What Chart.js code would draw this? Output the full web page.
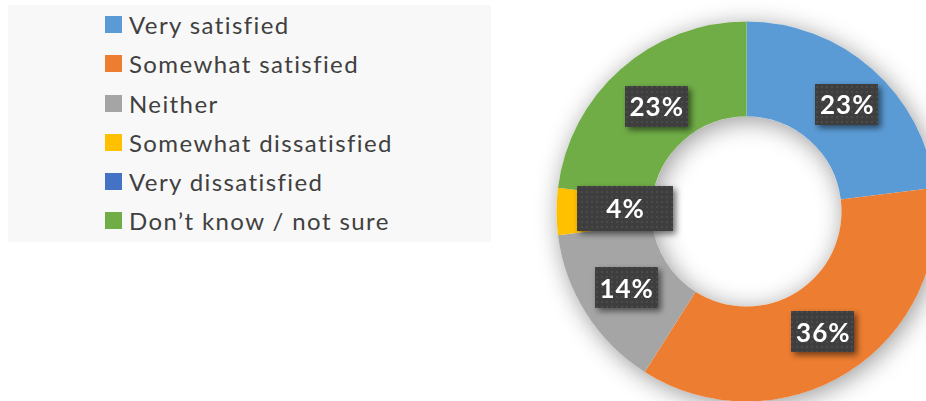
<!DOCTYPE html>
<html>
<head>
<meta charset="utf-8">
<script src="https://cdn.jsdelivr.net/npm/chart.js@4/dist/chart.umd.min.js"></script>
<style>
  html, body { margin: 0; padding: 0; width: 926px; height: 401px; overflow: hidden; background: #ffffff; }
  #wrap { position: absolute; left: 0; top: 0; width: 940px; height: 405px; }
  #legend { position: absolute; left: 8px; top: 5px; width: 483px; height: 237px; background: #f8f8f8;
            font-family: Lato, "Open Sans", sans-serif; font-size: 24px; letter-spacing: 1.4px; color: #404040; }
  #legend ul { list-style: none; margin: 0; padding: 0; padding-top: 0px; }
  #legend li { position: relative; height: 39.3px; line-height: 39.3px; padding-left: 121px; white-space: nowrap; }
  #legend li span.box { position: absolute; left: 97px; top: 11px; width: 17px; height: 17px; }
</style>
</head>
<body>
<div id="wrap"><canvas id="c"></canvas></div>
<div id="legend"></div>
<script>
const categories = ["Very satisfied", "Somewhat satisfied", "Neither", "Somewhat dissatisfied", "Very dissatisfied", "Don\u2019t know / not sure"];
const values = [23, 36, 14, 4, 0, 23];
const colors = ["#5b9bd5", "#ed7d31", "#a5a5a5", "#ffc000", "#4472c4", "#70ad47"];

function makePattern(ctx) {
  const p = document.createElement('canvas');
  p.width = 5; p.height = 5;
  const g = p.getContext('2d');
  g.fillStyle = '#3e3e3e'; g.fillRect(0, 0, 5, 5);
  g.fillStyle = '#4b4b4b'; g.fillRect(1, 1, 2, 2);
  return ctx.createPattern(p, 'repeat');
}

const ringShadow = {
  id: 'ringShadow',
  beforeDatasetsDraw(chart) {
    const arc = chart.getDatasetMeta(0).data[0];
    if (!arc) return;
    const { x, y, outerRadius, innerRadius } = arc.getProps(['x', 'y', 'outerRadius', 'innerRadius'], true);
    const ctx = chart.ctx;
    ctx.save();
    ctx.shadowColor = 'rgba(0,0,0,0.4)';
    ctx.shadowBlur = 24;
    ctx.shadowOffsetX = 3;
    ctx.shadowOffsetY = 4;
    ctx.beginPath();
    ctx.arc(x, y, outerRadius, 0, Math.PI * 2);
    ctx.arc(x, y, innerRadius, 0, Math.PI * 2, true);
    ctx.fillStyle = '#ffffff';
    ctx.fill('evenodd');
    ctx.restore();
  }
};

const boxLabels = {
  id: 'boxLabels',
  afterDatasetsDraw(chart, args, opts) {
    const ctx = chart.ctx;
    const meta = chart.getDatasetMeta(0);
    const data = chart.data.datasets[0].data;
    const total = data.reduce((a, b) => a + b, 0);
    const pattern = makePattern(ctx);
    meta.data.forEach((arc, i) => {
      const v = data[i];
      if (!v) return;
      const pos = arc.tooltipPosition(true);
      const o = (opts.overrides && opts.overrides[i]) || {};
      const cx = pos.x + (o.dx || 0);
      const cy = pos.y + (o.dy || 0);
      const w = o.w || opts.boxWidth;
      const h = o.h || opts.boxHeight;
      const text = Math.round(v / total * 100) + '%';
      ctx.save();
      ctx.shadowColor = 'rgba(0,0,0,0.55)';
      ctx.shadowBlur = 6;
      ctx.shadowOffsetX = 3;
      ctx.shadowOffsetY = 3;
      ctx.fillStyle = pattern;
      ctx.fillRect(Math.round(cx - w / 2), Math.round(cy - h / 2), w, h);
      ctx.restore();
      ctx.save();
      ctx.fillStyle = '#ffffff';
      ctx.font = 'bold ' + opts.fontSize + 'px Lato, "Open Sans", sans-serif';
      ctx.letterSpacing = '1px';
      ctx.textAlign = 'center';
      ctx.textBaseline = 'middle';
      ctx.fillText(text, cx + 0.5, cy + 1.5);
      ctx.restore();
    });
  }
};

const chart = new Chart(document.getElementById('c'), {
  type: 'doughnut',
  data: {
    labels: categories,
    datasets: [{ data: values, backgroundColor: colors, borderWidth: 0, hoverOffset: 0 }]
  },
  options: {
    responsive: true,
    maintainAspectRatio: false,
    animation: false,
    cutout: '50%',
    layout: { padding: { left: 556.5, top: 21.5, right: 3.5, bottom: 3.5 } },
    plugins: {
      legend: { display: false },
      tooltip: { enabled: false },
      boxLabels: {
        boxWidth: 63, boxHeight: 41, fontSize: 26,
        overrides: {
          0: { dx: 6, dy: 0 },
          3: { dx: 21, dy: -3, w: 96, h: 45 },
          5: { dx: 4, dy: 2 }
        }
      }
    }
  },
  plugins: [ringShadow, boxLabels]
});

// HTML legend built from the chart's own legend items
const items = Chart.overrides.doughnut.plugins.legend.labels.generateLabels(chart);
const ul = document.createElement('ul');
items.forEach(it => {
  const li = document.createElement('li');
  const b = document.createElement('span');
  b.className = 'box';
  b.style.background = it.fillStyle;
  li.appendChild(b);
  li.appendChild(document.createTextNode(it.text));
  ul.appendChild(li);
});
document.getElementById('legend').appendChild(ul);
</script>
</body>
</html>
